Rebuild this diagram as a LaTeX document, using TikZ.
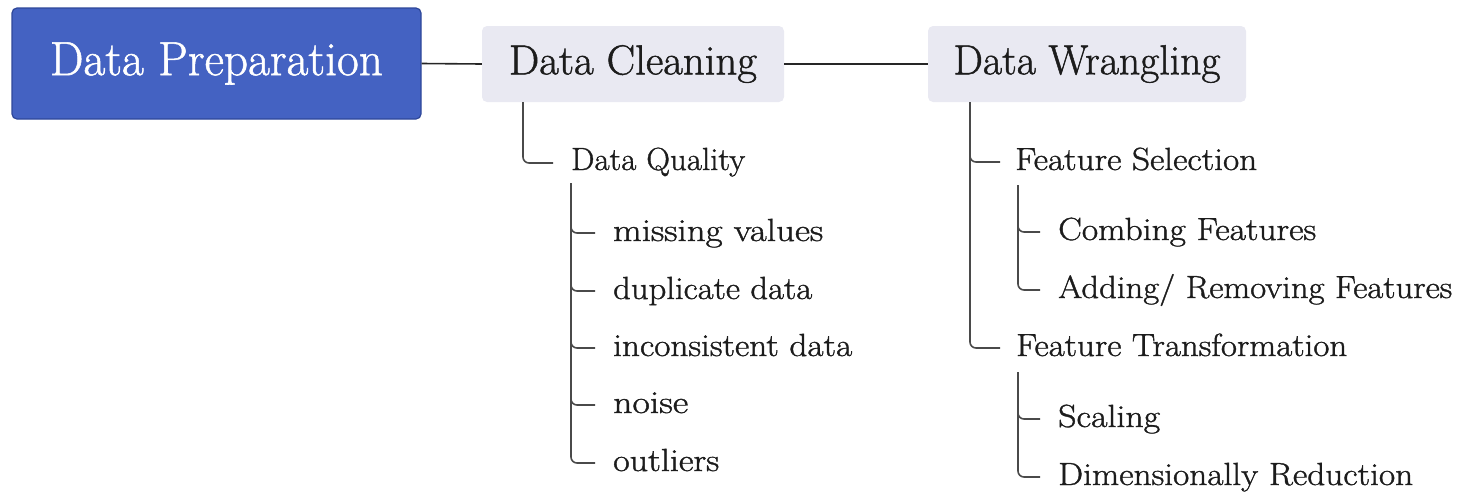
\documentclass[tikz,border=0pt]{standalone}
\usepackage{graphicx}
\usepackage{fontspec}
\setmainfont{Latin Modern Roman}[BoldFont={Latin Modern Roman},BoldFeatures={FakeBold=1.1}]
\definecolor{rootfill}{HTML}{4462C2}
\definecolor{rootdraw}{HTML}{2E4799}
\definecolor{boxfill}{HTML}{E9E9F2}
\definecolor{linecol}{HTML}{4A4A4A}
\definecolor{txt}{HTML}{1C1C1C}
\newsavebox\fitbox
\newcommand\fitw[2]{\sbox\fitbox{#2}\pgfmathsetmacro\fitsx{#1/\the\wd\fitbox}\scalebox{\fitsx}[1]{\usebox\fitbox}}
\begin{document}
\begin{tikzpicture}[x=1pt,y=-1pt,
  rootbox/.style={draw=rootdraw,line width=1.2pt,fill=rootfill,rounded corners=5pt,
    minimum width=409pt,minimum height=111pt,inner sep=0pt,text=white,
    font=\fontsize{48}{58}\selectfont\bfseries},
  topbox/.style={fill=boxfill,rounded corners=5pt,inner sep=0pt,text=txt,
    minimum height=76pt,font=\fontsize{42}{50}\selectfont\bfseries},
  item/.style={anchor=base west,inner sep=0pt,text=txt,font=\fontsize{32}{40}\selectfont\bfseries},
  conn/.style={draw=black!85,line width=1.6pt},
  tree/.style={draw=linecol,line width=1.6pt,rounded corners=6pt},
]
\useasboundingbox (0,0) rectangle (1475,496);
% top level
\node[rootbox] (root) at (216.5,63.5) {\fitw{333}{Data Preparation}};
\node[topbox,minimum width=302pt] (dc) at (633,64) {\fitw{248}{Data Cleaning}};
\node[topbox,minimum width=318pt] (dw) at (1087,64) {\fitw{267}{Data Wrangling}};
\draw[conn] (root.east) -- (dc.west);
\draw[conn] (dc.east) -- (dw.west);

% Data Cleaning subtree
\node[item] (dq) at (571,170) {\fitw{174}{Data Quality}};
\coordinate (dcv) at (523,102);
\draw[tree] (dcv) |- (553,163);
\node[item] (mv) at (613,241) {\fitw{210}{missing values}};
\node[item] (dd) at (613,299) {\fitw{199}{duplicate data}};
\node[item] (id) at (613,356) {\fitw{239}{inconsistent data}};
\node[item] (no) at (613,413) {\fitw{75}{noise}};
\node[item] (ou) at (613,471) {\fitw{106}{outliers}};
\coordinate (dqv) at (571,183);
\draw[draw=linecol,line width=1.6pt] (dqv) -- (571,440);
\foreach \y in {233,291,348,405}{
  \draw[tree] (571,\y-12) |- (595,\y);
}
\draw[tree] (571,435) |- (595,463);

% Data Wrangling subtree
\node[item] (fs) at (1015,170) {\fitw{242}{Feature Selection}};
\node[item] (ft) at (1016,356) {\fitw{331}{Feature Transformation}};
\coordinate (dwv) at (970,102);
\draw[draw=linecol,line width=1.6pt] (dwv) -- (970,320);
\draw[tree] (970,150) |- (1000,162);
\draw[tree] (970,315) |- (1000,348);

\node[item] (cf) at (1058,240) {\fitw{258}{Combing Features}};
\node[item] (ar) at (1058,298) {\fitw{394}{Adding/ Removing Features}};
\draw[draw=linecol,line width=1.6pt] (1018,185) -- (1018,265);
\draw[tree] (1018,220) |- (1040,232);
\draw[tree] (1018,262) |- (1040,290);

\node[item] (sc) at (1058,427) {\fitw{102}{Scaling}};
\node[item] (dr) at (1058,485) {\fitw{355}{Dimensionally Reduction}};
\draw[draw=linecol,line width=1.6pt] (1018,372) -- (1018,450);
\draw[tree] (1018,407) |- (1040,419);
\draw[tree] (1018,445) |- (1040,477);
\end{tikzpicture}
\end{document}
